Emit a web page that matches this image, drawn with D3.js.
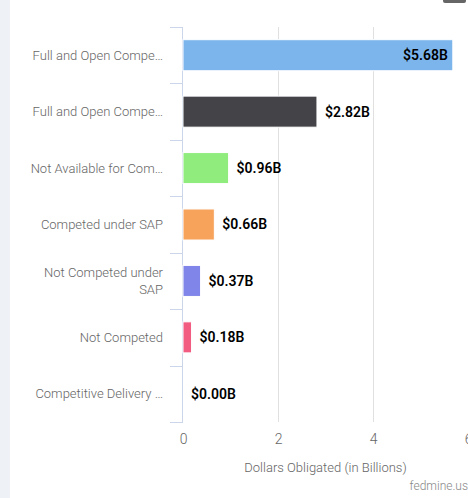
<!DOCTYPE html>
<html>
<head>
<meta charset="utf-8">
<script src="https://cdn.jsdelivr.net/npm/d3@7"></script>
<style>
  body { margin:0; background:#fff; }
  svg { display:block; font-family: Roboto, "Noto Sans", sans-serif; }
</style>
</head>
<body>
<div id="chart"></div>
<script>
// categories as shown on the axis (long names are cut with an ellipsis)
var categories = [
	["Full and Open Compe…"],
	["Full and Open Compe…"],
	["Not Available for Com…"],
	["Competed under SAP"],
	["Not Competed under", "SAP"],
	["Not Competed"],
	["Competitive Delivery …"]
];
var values = [5.68, 2.82, 0.96, 0.66, 0.37, 0.18, 0.00]; // billions
var colors = ["#7cb5ec", "#434348", "#90ed7d", "#f7a35c", "#8085e9", "#f15c80", "#e4d354"];
var xTicks = [0, 2, 4, 6];
var axisTitle = "Dollars Obligated (in Billions)";
var credit = "fedmine.us";

const W = 468, H = 498;
const margin = {top:27, bottom:76, left:183, right:0};
const plotW = 285, plotH = H - margin.top - margin.bottom;

var svg = d3.select("#chart").append("svg")
	.attr("width", W)
	.attr("height", H);

// page background strip on the left and the cut off menu button
svg.append("rect").attr("x",0).attr("y",0).attr("width",10).attr("height",H).attr("fill","#eef2f7");
svg.append("rect").attr("x",443).attr("y",-4).attr("width",23).attr("height",7).attr("rx",2).attr("fill","#666");

var idx = d3.range(values.length);

var xScale = d3.scaleLinear().domain([0, 6]).range([0, plotW]);
var yScale = d3.scaleBand().domain(idx).range([0, plotH]).paddingInner(0.45).paddingOuter(0.225);

var g = svg.append("g")
	.attr("transform", "translate(" + margin.left + "," + margin.top + ")");

// vertical grid lines
g.append("g").attr("class","grid")
	.selectAll("line")
	.data(xTicks.slice(1))
	.enter().append("line")
	.attr("x1", function(d){ return Math.round(xScale(d)) + 0.5; })
	.attr("x2", function(d){ return Math.round(xScale(d)) + 0.5; })
	.attr("y1", 0)
	.attr("y2", plotH)
	.attr("stroke", "#e0e0e0");

// x tick labels (the last one is cut by the edge, as in the original)
var xAxis = d3.axisBottom(xScale).tickValues(xTicks).tickFormat(d3.format("d")).tickSize(0).tickPadding(0);
var xg = g.append("g")
	.attr("transform", "translate(0," + (plotH + 12) + ")")
	.call(xAxis);
xg.select(".domain").remove();
xg.selectAll("text")
	.attr("fill", "#666")
	.style("font-size", "14px")
	.style("font-weight", "300")
	.style("font-family", "Roboto, sans-serif");

g.append("text")
	.attr("x", plotW / 2)
	.attr("y", plotH + 50)
	.attr("text-anchor", "middle")
	.attr("fill", "#666")
	.style("font-size", "13px")
	.style("font-weight", "300")
	.text(axisTitle);

// category axis: line and ticks at band boundaries
var bounds = d3.range(values.length + 1).map(function(i){ return i * plotH / values.length; });
g.append("line")
	.attr("x1", -0.5).attr("x2", -0.5)
	.attr("y1", 0).attr("y2", plotH)
	.attr("stroke", "#ccd6eb");
g.selectAll(".ytick")
	.data(bounds)
	.enter().append("line")
	.attr("class", "ytick")
	.attr("x1", -13).attr("x2", 0)
	.attr("y1", function(d){ return Math.round(d) + 0.5; })
	.attr("y2", function(d){ return Math.round(d) + 0.5; })
	.attr("stroke", "#ccd6eb");

// category labels
var lab = g.selectAll(".ylab")
	.data(idx)
	.enter().append("text")
	.attr("class", "ylab")
	.attr("text-anchor", "end")
	.attr("fill", "#666")
	.style("font-size", "13px")
	.style("font-weight", "300");
lab.each(function(i){
	var lines = categories[i];
	var cy = yScale(i) + yScale.bandwidth() / 2;
	var lh = 17;
	var y0 = cy - (lines.length - 1) * lh / 2;
	var t = d3.select(this);
	lines.forEach(function(s, k){
		t.append("tspan")
			.attr("x", -20)
			.attr("y", y0 + k * lh)
			.attr("dy", "0.35em")
			.text(s);
	});
});

// bars
g.selectAll(".bar")
	.data(idx)
	.enter().append("rect")
	.attr("class", "bar")
	.attr("x", 0)
	.attr("y", function(i){ return yScale(i); })
	.attr("width", function(i){ return xScale(values[i]); })
	.attr("height", yScale.bandwidth())
	.attr("fill", function(i){ return colors[i]; })
	.attr("stroke", "#fff")
	.attr("stroke-width", 1);

// value labels
g.selectAll(".val")
	.data(idx)
	.enter().append("text")
	.attr("class", "val")
	.attr("x", function(i){
		var w = xScale(values[i]);
		return w > plotW - 60 ? w - 5 : w + 8;
	})
	.attr("y", function(i){ return yScale(i) + yScale.bandwidth() / 2; })
	.attr("dy", "0.35em")
	.attr("text-anchor", function(i){ return xScale(values[i]) > plotW - 60 ? "end" : "start"; })
	.attr("fill", "#000")
	.style("font-size", "14px")
	.style("font-weight", "600")
	.text(function(i){ return "$" + values[i].toFixed(2) + "B"; });

svg.append("text")
	.attr("x", 468)
	.attr("y", 490)
	.attr("text-anchor", "end")
	.attr("fill", "#888")
	.style("font-size", "12px")
	.style("font-weight", "300")
	.text(credit);
</script>
</body>
</html>
